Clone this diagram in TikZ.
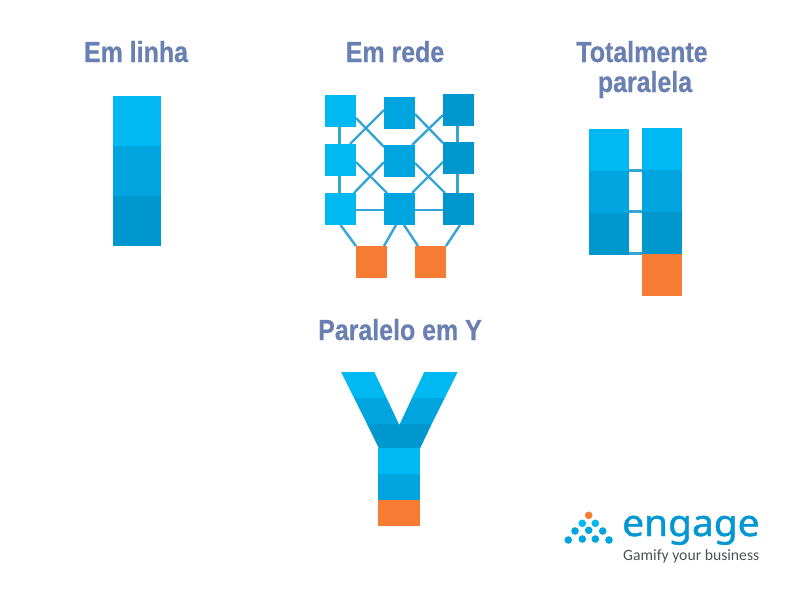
\documentclass[tikz,border=0pt]{standalone}
\usepackage{fontspec}
\usetikzlibrary{calc,backgrounds}
\setmainfont{Liberation Sans}
\newfontfamily\titlefont[FakeStretch=0.86,FakeBold=0.5]{Liberation Sans}
\newfontfamily\engagefont[FakeStretch=1.05,FakeBold=1.2]{Noto Sans}
\newfontfamily\tagfont{Carlito}
\definecolor{lt}{HTML}{00B9F2}
\definecolor{md}{HTML}{00A5DF}
\definecolor{dk}{HTML}{0097CE}
\definecolor{org}{HTML}{F67B33}
\definecolor{wire}{HTML}{35A5D4}
\definecolor{ttl}{HTML}{6A80B2}
\definecolor{logoblue}{HTML}{0097D3}
\definecolor{taggrey}{HTML}{4F5355}
\tikzset{
  blk/.style={draw=none,inner sep=0pt,outer sep=0pt,anchor=north west,minimum width=#1},
  sq/.style={blk=31pt,minimum height=32pt},
  wirel/.style={draw=wire,line width=2.4pt},
  ttlt/.style={text=ttl,anchor=base,inner sep=0pt,font=\titlefont\bfseries\fontsize{29}{29}\selectfont},
  dot/.style={circle,inner sep=0pt,minimum size=7.6pt,draw=none},
}
\begin{document}
\begin{tikzpicture}[x=1pt,y=-1pt]
\useasboundingbox (0,0) rectangle (800,600);
% titles
\node[ttlt] (t1) at (136,62) {Em linha};
\node[ttlt] (t2) at (395,62) {Em rede};
\node[ttlt] (t3a) at (642,62) {Totalmente};
\node[ttlt] (t3b) at (645,92) {paralela};
\node[ttlt] (t4) at (400,340) {Paralelo em Y};
% em linha
\node[blk=48pt,minimum height=50pt,fill=lt] (l1) at (113,96) {};
\node[blk=48pt,minimum height=50pt,fill=md] (l2) at (113,146) {};
\node[blk=48pt,minimum height=50pt,fill=dk] (l3) at (113,196) {};
% em rede
\node[sq,fill=lt] (n11) at (325,95) {};
\node[sq,fill=lt] (n12) at (325,144) {};
\node[sq,fill=lt] (n13) at (325,193) {};
\node[sq,fill=md] (n21) at (384,97) {};
\node[sq,fill=md] (n22) at (384,145) {};
\node[sq,fill=md] (n23) at (384,193) {};
\node[sq,fill=dk] (n31) at (443,94) {};
\node[sq,fill=dk] (n32) at (443,142) {};
\node[sq,fill=dk] (n33) at (443,193) {};
\node[sq,fill=org] (o1) at (356,246) {};
\node[sq,fill=org] (o2) at (415,246) {};
% totalmente paralela
\node[blk=40pt,minimum height=42pt,fill=lt] (a1) at (589,129) {};
\node[blk=40pt,minimum height=42pt,fill=md] (a2) at (589,171) {};
\node[blk=40pt,minimum height=42pt,fill=dk] (a3) at (589,213) {};
\node[blk=40pt,minimum height=42pt,fill=lt] (b1) at (642,128) {};
\node[blk=40pt,minimum height=42pt,fill=md] (b2) at (642,170) {};
\node[blk=40pt,minimum height=42pt,fill=dk] (b3) at (642,212) {};
\node[blk=40pt,minimum height=42pt,fill=org] (b4) at (642,254) {};
\begin{scope}[on background layer]
\fill[white] (0,0) rectangle (800,600);
\draw[wirel] ($(n11.south)+(-1,0)$) -- ($(n12.north)+(-1,0)$);
\draw[wirel] ($(n12.south)+(-1,0)$) -- ($(n13.north)+(-1,0)$);
\draw[wirel] ($(n31.south)+(-1,0)$) -- ($(n32.north)+(-1,0)$);
\draw[wirel] ($(n32.south)+(-1,0)$) -- ($(n33.north)+(-1,0)$);
\draw[wirel] ($(n13.east)+(0,1)$) -- ($(n23.west)+(0,1)$);
\draw[wirel] ($(n23.east)+(0,1)$) -- ($(n33.west)+(0,1)$);
\draw[wirel] ($(n11.east)+(0,7)$) -- ($(n22.north west)+(0,2)$);
\draw[wirel] ($(n21.west)+(0,-3)$) -- ($(n12.north east)+(-6,0)$);
\draw[wirel] ($(n21.east)+(0,1)$) -- ($(n32.north west)+(0,1)$);
\draw[wirel] ($(n31.west)+(0,5)$) -- ($(n22.north east)+(-3,0)$);
\draw[wirel] ($(n12.east)+(0,2)$) -- ($(n23.north west)+(3,0)$);
\draw[wirel] ($(n22.west)+(0,1)$) -- ($(n13.north east)+(-2,0)$);
\draw[wirel] ($(n22.east)+(0,2)$) -- ($(n33.north west)+(2,0)$);
\draw[wirel] ($(n32.west)+(0,4)$) -- ($(n23.north east)+(-3,0)$);
\draw[wirel] (n13.south) -- (o1.north west);
\draw[wirel] ($(n23.south)+(-3.5,0)$) -- ($(o1.north east)+(-3,0)$);
\draw[wirel] ($(n23.south)+(4.5,0)$) -- ($(o2.north west)+(3,0)$);
\draw[wirel] ($(n33.south)+(1.5,0)$) -- (o2.north east);
\draw[wirel] ($(a1.south east)+(0,-0.5)$) -- ($(b1.south west)+(0,0.5)$);
\draw[wirel] ($(a2.south east)+(0,-1.5)$) -- ($(b2.south west)+(0,-0.5)$);
\draw[wirel] ($(a3.south east)+(0,-1.5)$) -- ($(b3.south west)+(0,-0.5)$);
\end{scope}
% Y
\fill[lt] (341,372) -- (374.3,372) -- (386.6,398) -- (354,398) -- cycle;
\fill[lt] (424.3,372) -- (457.7,372) -- (444.7,398) -- (412,398) -- cycle;
\fill[md] (354,398) -- (386.6,398) -- (398.8,424) -- (399.8,424) -- (412,398) -- (444.7,398) -- (431.7,424) -- (367,424) -- cycle;
\fill[dk] (367,424) -- (398.8,424) -- (399.3,425) -- (399.8,424) -- (431.7,424) -- (420,448.5) -- (379,448.5) -- cycle;
\fill[lt] (378,448.3) rectangle (420,474);
\fill[md] (378,474) rectangle (420,500);
\fill[org] (378,500) rectangle (420,526);
% logo
\node[dot,fill=org] (d0) at (588.7,515.3) {};
\node[dot,fill=lt] (d1) at (582.3,523.3) {};
\node[dot,fill=lt] (d2) at (595.3,523.3) {};
\node[dot,fill=md] (d3) at (575,531) {};
\node[dot,fill=md] (d4) at (588.7,530.3) {};
\node[dot,fill=md] (d5) at (602.7,531) {};
\node[dot,fill=md] (d6) at (568.3,540) {};
\node[dot,fill=md] (d7) at (582.3,539) {};
\node[dot,fill=md] (d8) at (595.3,539) {};
\node[dot,fill=md] (d9) at (609,540) {};
\node[anchor=base west,inner sep=0pt,text=logoblue,font=\engagefont\fontsize{37}{37}\selectfont] (e1) at (622,536) {engage};
\node[anchor=base west,inner sep=0pt,text=taggrey,font=\tagfont\fontsize{15.7}{15.7}\selectfont] (e2) at (623,560) {Gamify your business};
\end{tikzpicture}
\end{document}
